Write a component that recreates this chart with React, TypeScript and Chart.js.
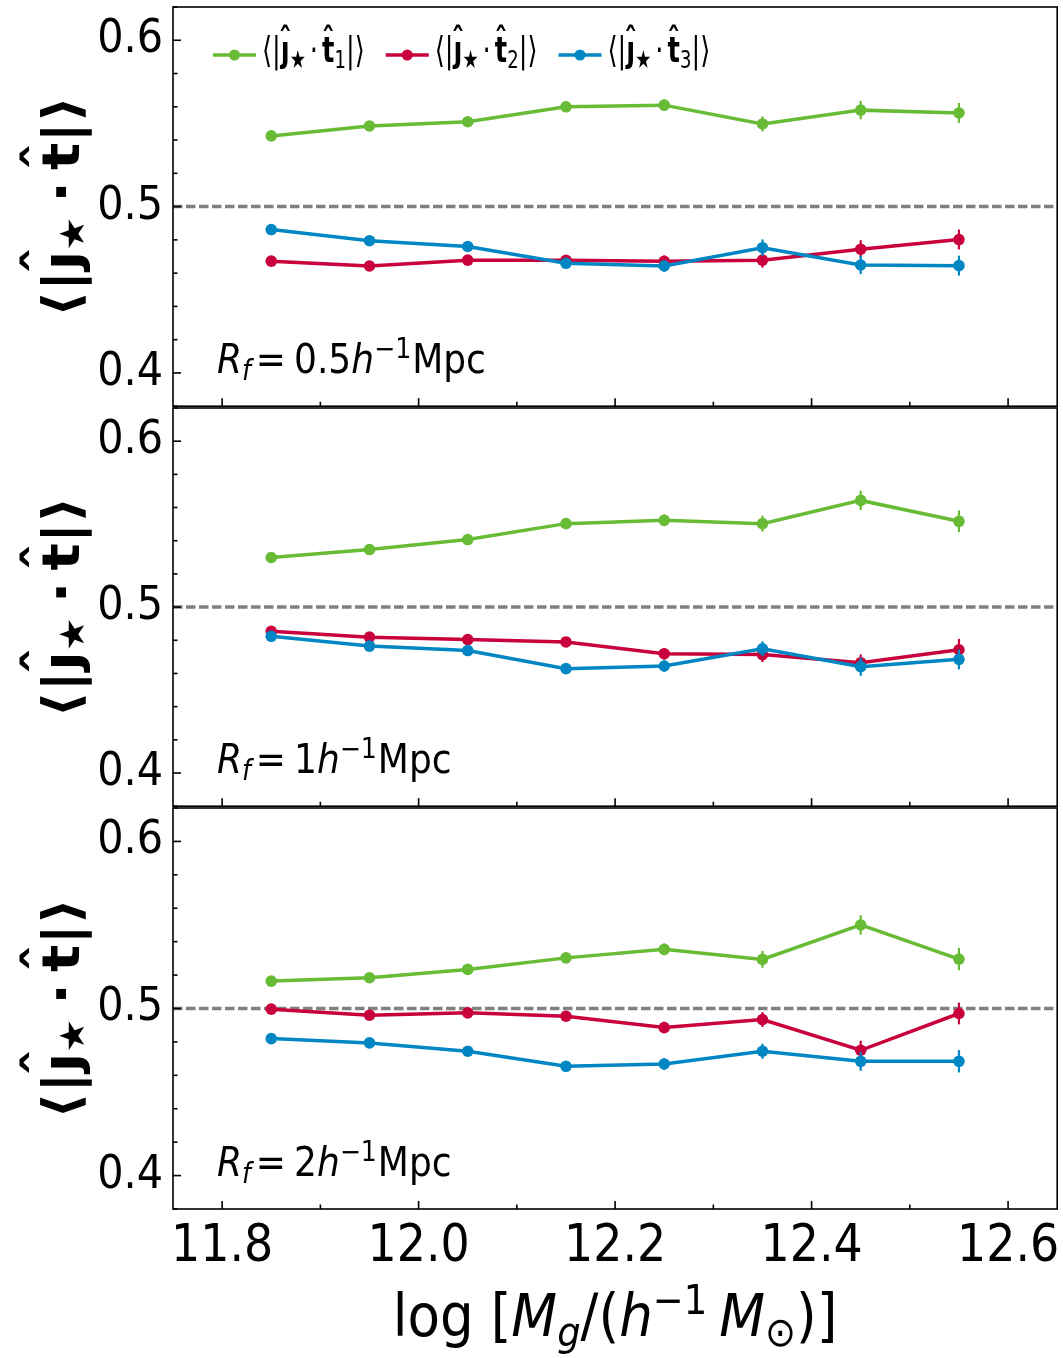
import React, { useEffect, useRef } from "react";
import { Chart, registerables } from "chart.js";
Chart.register(...registerables);

const FAM = '"DejaVu Sans Condensed", "DejaVu Sans", sans-serif';
const FAM_WIDE = '"DejaVu Sans", sans-serif';

// ---------- data ----------
const massBins = [11.85, 11.95, 12.05, 12.15, 12.25, 12.35, 12.45, 12.55];
const xRange = [11.75, 12.65];
const yRange = [0.38, 0.62];
const xMajorTicks = [11.8, 12.0, 12.2, 12.4, 12.6];
const xMinorTicks = [11.9, 12.1, 12.3, 12.5];
const yMajorTicks = [0.4, 0.5, 0.6];
const yMinorTicks = [0.38, 0.42, 0.44, 0.46, 0.48, 0.52, 0.54, 0.56, 0.58, 0.62];
const refLevel = 0.5;
const smoothingScales = ["0.5", "1", "2"];
const seriesSubscripts = ["1", "2", "3"];
const seriesColors = ["#67bb35", "#c8003c", "#0087c3"];

// R_f = 0.5
const t1R05 = [0.5425, 0.5485, 0.551, 0.56, 0.561, 0.5497, 0.558, 0.5563];
const t2R05 = [0.4672, 0.4643, 0.4678, 0.4677, 0.4671, 0.4678, 0.4744, 0.4802];
const t3R05 = [0.4862, 0.4795, 0.476, 0.4659, 0.4643, 0.4753, 0.4649, 0.4645];
const t1R05Err = [0.002, 0.002, 0.0025, 0.003, 0.0035, 0.0045, 0.0055, 0.006];
const t2R05Err = [0.002, 0.002, 0.0025, 0.003, 0.0035, 0.0045, 0.0054, 0.006];
const t3R05Err = [0.002, 0.002, 0.0025, 0.003, 0.0035, 0.005, 0.0055, 0.006];
// R_f = 1
const t1R1 = [0.5299, 0.5347, 0.5407, 0.5503, 0.5523, 0.5503, 0.5643, 0.5517];
const t2R1 = [0.4854, 0.4819, 0.4804, 0.479, 0.4719, 0.4714, 0.4665, 0.4743];
const t3R1 = [0.4824, 0.4765, 0.4738, 0.4629, 0.4645, 0.4749, 0.4641, 0.4685];
const t1R1Err = [0.002, 0.002, 0.0025, 0.003, 0.0035, 0.0048, 0.0058, 0.0065];
const t2R1Err = [0.002, 0.002, 0.0025, 0.003, 0.0035, 0.0045, 0.005, 0.0065];
const t3R1Err = [0.002, 0.002, 0.0025, 0.003, 0.0035, 0.0045, 0.0055, 0.006];
// R_f = 2
const t1R2 = [0.5164, 0.5184, 0.5234, 0.5303, 0.5354, 0.5294, 0.55, 0.5296];
const t2R2 = [0.4996, 0.496, 0.4974, 0.4954, 0.4886, 0.4934, 0.475, 0.497];
const t3R2 = [0.482, 0.4794, 0.4744, 0.4654, 0.4668, 0.4744, 0.4684, 0.4684];
const t1R2Err = [0.002, 0.002, 0.0025, 0.003, 0.0035, 0.005, 0.0058, 0.0067];
const t2R2Err = [0.002, 0.002, 0.0025, 0.003, 0.0035, 0.0045, 0.0057, 0.0065];
const t3R2Err = [0.002, 0.002, 0.0025, 0.003, 0.0035, 0.0045, 0.0057, 0.0067];

const panelT1 = [t1R05, t1R1, t1R2];
const panelT2 = [t2R05, t2R1, t2R2];
const panelT3 = [t3R05, t3R1, t3R2];
const panelT1Err = [t1R05Err, t1R1Err, t1R2Err];
const panelT2Err = [t2R05Err, t2R1Err, t2R2Err];
const panelT3Err = [t3R05Err, t3R1Err, t3R2Err];

// ---------- rich text helpers ----------
type Seg = { t: string; f: string; dy?: number; dx?: number; hat?: number };

function richWidth(ctx: CanvasRenderingContext2D, segs: Seg[]) {
  let w = 0;
  for (const s of segs) {
    ctx.font = s.f;
    w += (s.dx || 0) + ctx.measureText(s.t).width;
  }
  return w;
}

function drawRich(ctx: CanvasRenderingContext2D, segs: Seg[], x: number, y: number) {
  let cx = x;
  ctx.textAlign = "left";
  ctx.textBaseline = "alphabetic";
  for (const s of segs) {
    ctx.font = s.f;
    cx += s.dx || 0;
    const w = ctx.measureText(s.t).width;
    ctx.fillText(s.t, cx, y + (s.dy || 0));
    if (s.hat) {
      ctx.textAlign = "center";
      ctx.fillText("\u02C6", cx + w / 2, y + (s.dy || 0) - s.hat);
      ctx.textAlign = "left";
    }
    cx += w;
  }
  return cx;
}

function drawRichScaled(ctx: CanvasRenderingContext2D, segs: Seg[], x: number, y: number, sx: number, sy: number) {
  ctx.save();
  ctx.translate(x, y);
  ctx.scale(sx, sy);
  const end = drawRich(ctx, segs, 0, 0);
  ctx.restore();
  return x + end * sx;
}

const f = (style: string, size: number) => `${style} ${size}px ${FAM}`;
const fw = (style: string, size: number) => `${style} ${size}px ${FAM_WIDE}`;

function yTitleSegs(): Seg[] {
  const B = fw("bold", 57);
  const S = fw("bold", 38);
  return [
    { t: "\u27E8", f: B },
    { t: "|", f: B },
    { t: "\u0237", f: B, hat: 20 },
    { t: "\u2605", f: S, dy: 6 },
    { t: "\u00B7", f: B, dx: 14 },
    { t: "t", f: B, hat: 20, dx: 11 },
    { t: "|", f: B },
    { t: "\u27E9", f: B },
  ];
}

function legendSegs(k: number): Seg[] {
  const R = f("normal", 36);
  const B = f("bold", 36);
  const S = f("normal", 25);
  return [
    { t: "\u27E8|", f: R },
    { t: "\u0237", f: B, hat: 9 },
    { t: "\u2605", f: S, dy: 6 },
    { t: "\u00B7", f: R, dx: 5 },
    { t: "t", f: B, hat: 9, dx: 5 },
    { t: seriesSubscripts[k], f: S, dy: 6 },
    { t: "|\u27E9", f: R },
  ];
}

function annotSegs(p: number): Seg[] {
  const I = f("italic", 40);
  const Is = f("italic", 28);
  const R = f("normal", 40);
  const Rs = f("normal", 28);
  return [
    { t: "R", f: I },
    { t: "f", f: Is, dy: 7 },
    { t: "=", f: R, dx: 5 },
    { t: smoothingScales[p], f: R, dx: 8 },
    { t: "h", f: I },
    { t: "\u22121", f: Rs, dy: -15 },
    { t: "Mpc", f: R, dx: 1 },
  ];
}

function xTitleSegs(): Seg[] {
  const I = f("italic", 59);
  const Is = f("italic", 41);
  const R = f("normal", 59);
  const Rs = f("normal", 41);
  return [
    { t: "log [", f: R },
    { t: "M", f: I },
    { t: "g", f: Is, dy: 10 },
    { t: "/(", f: R },
    { t: "h", f: I },
    { t: "\u22121", f: Rs, dy: -22 },
    { t: "M", f: I, dx: 12 },
    { t: "\u2299", f: Rs, dy: 10 },
    { t: ")]", f: R },
  ];
}

// ---------- plugin ----------
const decorPlugin = {
  id: "decor",
  beforeDatasetDraw(chart: any, args: any) {
    const ds = chart.data.datasets[args.index];
    if (!ds.errors) return;
    const { ctx } = chart;
    const yS = chart.scales.y;
    ctx.save();
    ctx.strokeStyle = ds.borderColor;
    ctx.lineWidth = 2.2;
    args.meta.data.forEach((pt: any, i: number) => {
      const v = ds.data[i].y;
      const e = ds.errors[i];
      ctx.beginPath();
      ctx.moveTo(pt.x, yS.getPixelForValue(v - e));
      ctx.lineTo(pt.x, yS.getPixelForValue(v + e));
      ctx.stroke();
    });
    ctx.restore();
  },
  afterDraw(chart: any, _args: any, opts: any) {
    const { ctx, chartArea: a } = chart;
    const xS = chart.scales.x;
    const yS = chart.scales.y;
    ctx.save();
    ctx.strokeStyle = "#000";
    ctx.fillStyle = "#000";
    ctx.lineWidth = 1.6;
    const line = (x1: number, y1: number, x2: number, y2: number) => {
      ctx.beginPath();
      ctx.moveTo(x1, y1);
      ctx.lineTo(x2, y2);
      ctx.stroke();
    };
    yMajorTicks.forEach((v) => {
      const py = yS.getPixelForValue(v);
      line(a.left, py, a.left + 8, py);
    });
    yMinorTicks.forEach((v) => {
      const py = yS.getPixelForValue(v);
      line(a.left, py, a.left + 4.5, py);
    });
    xMajorTicks.forEach((v) => {
      const px = xS.getPixelForValue(v);
      line(px, a.bottom, px, a.bottom - 8);
    });
    xMinorTicks.forEach((v) => {
      const px = xS.getPixelForValue(v);
      line(px, a.bottom, px, a.bottom - 4.5);
    });
    ctx.lineWidth = 1.6;
    ctx.strokeRect(a.left, a.top, a.right - a.left, a.bottom - a.top);

    // y title (rotated)
    const ysegs = yTitleSegs();
    const yw = richWidth(ctx, ysegs);
    ctx.save();
    ctx.translate(79, (a.top + a.bottom) / 2);
    ctx.rotate(-Math.PI / 2);
    ctx.scale(1, 0.9);
    drawRich(ctx, ysegs, -yw / 2, 0);
    ctx.restore();

    // annotation
    drawRich(ctx, annotSegs(opts.panel), a.left + 44, a.bottom - 33);

    // legend
    if (opts.legend) {
      let lx = a.left + 40;
      const ly = a.top + 48;
      for (let k = 0; k < 3; k++) {
        ctx.strokeStyle = seriesColors[k];
        ctx.fillStyle = seriesColors[k];
        ctx.lineWidth = 3.5;
        line(lx, ly, lx + 43, ly);
        ctx.beginPath();
        ctx.arc(lx + 21.5, ly, 5.5, 0, Math.PI * 2);
        ctx.fill();
        ctx.fillStyle = "#000";
        const end = drawRichScaled(ctx, legendSegs(k), lx + 49, ly + 7, 0.8, 1);
        lx = end + 21;
      }
    }

    // x title
    if (opts.xTitle) {
      const segs = xTitleSegs();
      const w = richWidth(ctx, segs);
      ctx.fillStyle = "#000";
      drawRich(ctx, segs, (a.left + a.right) / 2 - w / 2, a.bottom + 127);
    }
    ctx.restore();
  },
};

function buildConfig(p: number, padTop: number, padBottom: number, showX: boolean): any {
  const series = [panelT1[p], panelT2[p], panelT3[p]];
  const errs = [panelT1Err[p], panelT2Err[p], panelT3Err[p]];
  const datasets: any[] = series.map((vals, k) => ({
    label: "t" + seriesSubscripts[k],
    data: massBins.map((x, i) => ({ x, y: vals[i] })),
    errors: errs[k],
    borderColor: seriesColors[k],
    backgroundColor: seriesColors[k],
    borderWidth: 3.5,
    pointRadius: 5.8,
    pointBorderWidth: 0,
    pointHoverRadius: 5.8,
    order: 3 - k,
    tension: 0,
  }));
  datasets.push({
    label: "ref",
    data: xRange.map((x) => ({ x, y: refLevel })),
    borderColor: "#808080",
    borderWidth: 3.5,
    borderDash: [9.5, 3.5],
    pointRadius: 0,
    order: 10,
  });
  return {
    type: "line",
    data: { datasets },
    options: {
      responsive: false,
      animation: false,
      events: [],
      layout: { padding: { top: padTop, bottom: padBottom, left: 0, right: 4 } },
      plugins: {
        legend: { display: false },
        tooltip: { enabled: false },
        decor: { panel: p, legend: p === 0, xTitle: showX },
      },
      scales: {
        x: {
          type: "linear",
          min: xRange[0],
          max: xRange[1],
          display: showX,
          grid: { display: false, drawTicks: false },
          border: { display: false },
          ticks: {
            font: { family: FAM, size: 51 },
            color: "#000",
            padding: 8,
            maxRotation: 0,
            callback: (v: number) => v.toFixed(1),
          },
          afterBuildTicks: (s: any) => {
            s.ticks = xMajorTicks.map((v) => ({ value: v }));
          },
          afterFit: (s: any) => {
            s.height = showX ? 149 : 0;
            s.paddingLeft = 0;
            s.paddingRight = 0;
            s.paddingTop = 0;
            s.paddingBottom = 0;
          },
        },
        y: {
          type: "linear",
          min: yRange[0],
          max: yRange[1],
          grid: { display: false, drawTicks: false },
          border: { display: false },
          ticks: {
            font: { family: FAM, size: 46 },
            color: "#000",
            padding: 10,
            callback: (v: number) => v.toFixed(1),
          },
          afterBuildTicks: (s: any) => {
            s.ticks = yMajorTicks.map((v) => ({ value: v }));
          },
          afterFit: (s: any) => {
            s.width = 173;
            s.paddingTop = 0;
            s.paddingBottom = 0;
            s.paddingLeft = 0;
            s.paddingRight = 0;
          },
        },
      },
    },
    plugins: [decorPlugin],
  };
}

function Panel(props: { p: number; top: number; height: number; padTop: number; padBottom: number; showX: boolean }) {
  const ref = useRef<HTMLCanvasElement | null>(null);
  useEffect(() => {
    if (!ref.current) return;
    const chart = new Chart(ref.current, buildConfig(props.p, props.padTop, props.padBottom, props.showX));
    return () => chart.destroy();
  }, []);
  return (
    <canvas
      ref={ref}
      width={1063}
      height={props.height}
      style={{ position: "absolute", left: 0, top: props.top, width: 1063, height: props.height }}
    />
  );
}

export default function App() {
  return (
    <div style={{ position: "absolute", left: 0, top: 0, width: 1063, height: 1358, background: "#fff" }}>
      <Panel p={0} top={0} height={412} padTop={7} padBottom={4} showX={false} />
      <Panel p={1} top={400} height={412} padTop={8} padBottom={4} showX={false} />
      <Panel p={2} top={800} height={558} padTop={8} padBottom={0} showX={true} />
    </div>
  );
}
